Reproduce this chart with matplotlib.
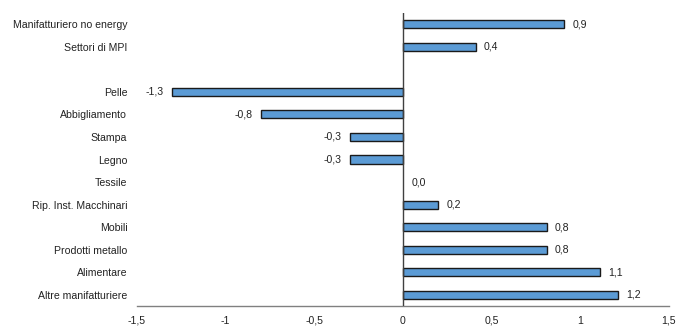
import matplotlib.pyplot as plt
import numpy as np

plt.rcParams['font.family'] = ['Liberation Sans', 'DejaVu Sans']

# categories from top to bottom (empty slot between Settori and Pelle)
categories = ['Manifatturiero no energy', 'Settori di MPI', '',
              'Pelle', 'Abbigliamento', 'Stampa', 'Legno', 'Tessile',
              'Rip. Inst. Macchinari', 'Mobili', 'Prodotti metallo',
              'Alimentare', 'Altre manifatturiere']
values = [0.91, 0.41, None,
          -1.30, -0.80, -0.30, -0.30, 0.0,
          0.20, 0.81, 0.81, 1.11, 1.21]
labels = ['0,9', '0,4', '',
          '-1,3', '-0,8', '-0,3', '-0,3', '0,0',
          '0,2', '0,8', '0,8', '1,1', '1,2']
xticks = [-1.5, -1, -0.5, 0, 0.5, 1, 1.5]
xticklabels = ['-1,5', '-1', '-0,5', '0', '0,5', '1', '1,5']

fs = 7.6
fig = plt.figure(figsize=(7.0, 3.31), dpi=100)
ax = fig.add_axes([137 / 700, 1 - 306 / 331, 532 / 700, 293 / 331])

y = np.arange(len(categories))
for yi, v, lab in zip(y, values, labels):
    if v is None:
        continue
    if v != 0:
        ax.barh(yi, v, height=0.36, color='#5B9BD5', edgecolor='#1a1a1a',
                linewidth=1.0, zorder=2)
    if v >= 0:
        ax.annotate(lab, (v, yi), xytext=(6, 0), textcoords='offset points',
                    ha='left', va='center', fontsize=fs, color='#222222')
    else:
        ax.annotate(lab, (v, yi), xytext=(-6, 0), textcoords='offset points',
                    ha='right', va='center', fontsize=fs, color='#222222')

ax.set_ylim(len(categories) - 0.5, -0.5)
ax.set_xlim(-1.5, 1.5)
ax.set_yticks(y)
ax.set_yticklabels(categories, fontsize=fs, color='#222222')
ax.set_xticks(xticks)
ax.set_xticklabels(xticklabels, fontsize=fs, color='#222222')
ax.tick_params(axis='both', length=0)
ax.tick_params(axis='y', pad=7)
ax.tick_params(axis='x', pad=7)

for s in ['top', 'right', 'left']:
    ax.spines[s].set_visible(False)
ax.spines['bottom'].set_color('#808080')
ax.spines['bottom'].set_linewidth(1.0)
ax.axvline(0, color='#404040', linewidth=1.0, zorder=3)

fig.savefig('out.png', dpi=100)
